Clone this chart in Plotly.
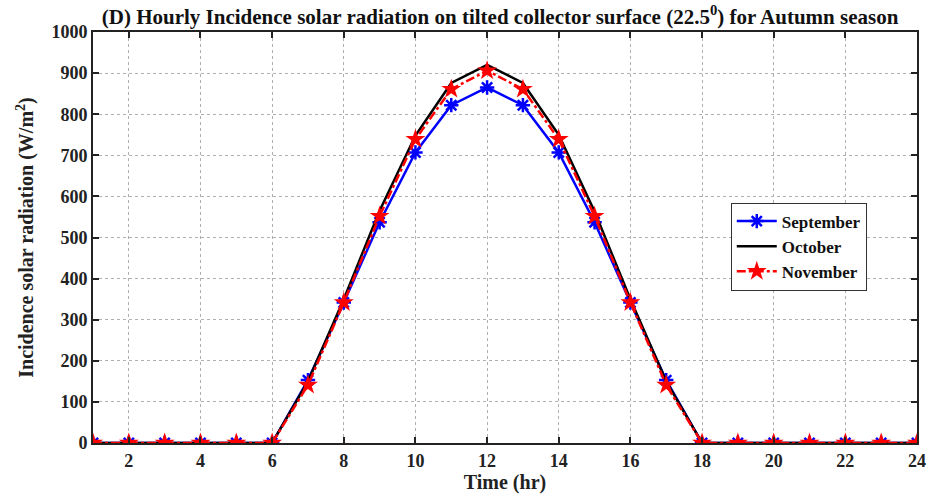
import plotly.graph_objects as go

hours = list(range(1, 25))
september = [0, 0, 0, 0, 0, 0, 153, 342, 537, 707, 822, 865, 822, 707, 537, 342, 153, 0, 0, 0, 0, 0, 0, 0]
october = [0, 0, 0, 0, 0, 0, 150, 350, 565, 748, 876, 920, 876, 750, 563, 350, 150, 0, 0, 0, 0, 0, 0, 0]
november = [0, 0, 0, 0, 0, 0, 141, 342, 552, 739, 861, 906, 861, 739, 552, 342, 141, 0, 0, 0, 0, 0, 0, 0]
x_ticks = [2, 4, 6, 8, 10, 12, 14, 16, 18, 20, 22, 24]
y_ticks = [0, 100, 200, 300, 400, 500, 600, 700, 800, 900, 1000]

font_family = "Liberation Serif"

fig = go.Figure()
fig.add_trace(go.Scatter(
    x=hours, y=september, name="<b>September</b>", mode="lines+markers",
    line=dict(color="#0000ff", width=2.5),
    marker=dict(symbol="asterisk-open", size=12, color="#0000ff", line=dict(color="#0000ff", width=2.5)),
))
fig.add_trace(go.Scatter(
    x=hours, y=october, name="<b>October</b>", mode="lines",
    line=dict(color="#000000", width=2.5),
))
fig.add_trace(go.Scatter(
    x=hours, y=november, name="<b>November</b>", mode="lines+markers",
    line=dict(color="#ff0000", width=2.5, dash="dashdot"),
    marker=dict(symbol="star", size=15, color="#ff0000"),
))

fig.update_layout(
    width=940, height=501,
    paper_bgcolor="white", plot_bgcolor="white",
    margin=dict(l=93, r=23, t=32, b=58),
    font=dict(family=font_family, size=17, color="#222222"),
    title=dict(
        text="<b>(D) Hourly Incidence solar radiation on tilted collector surface (22.5<sup>0</sup>) for Autumn season</b>",
        x=0.532, xanchor="center", y=0.982, yanchor="top",
        font=dict(family=font_family, size=21, color="#111111"),
    ),
    showlegend=True,
    legend=dict(
        x=0.774, y=0.585, xanchor="left", yanchor="top",
        bgcolor="white", bordercolor="#333333", borderwidth=1,
        font=dict(family=font_family, size=17, color="#111111"),
        tracegroupgap=0, itemwidth=40,
    ),
)
fig.update_xaxes(
    range=[1, 24], tickvals=x_ticks, ticktext=[f"<b>{v}</b>" for v in x_ticks],
    showline=True, linecolor="#222222", linewidth=2, mirror="ticks",
    ticks="inside", ticklen=6, tickwidth=2, tickcolor="#222222",
    showgrid=True, gridcolor="#b0b0b0", griddash="dot", gridwidth=1,
    zeroline=False,
    tickfont=dict(family=font_family, size=18, color="#222222"),
    title=dict(text="<b>Time (hr)</b>", font=dict(family=font_family, size=20, color="#222222"), standoff=4),
)
fig.update_yaxes(
    range=[0, 1000], tickvals=y_ticks, ticktext=[f"<b>{v}</b>" for v in y_ticks],
    showline=True, linecolor="#222222", linewidth=2, mirror="ticks",
    ticks="inside", ticklen=6, tickwidth=2, tickcolor="#222222",
    showgrid=True, gridcolor="#b0b0b0", griddash="dot", gridwidth=1,
    zeroline=False,
    tickfont=dict(family=font_family, size=18, color="#222222"),
    title=dict(text="<b>Incidence solar radiation (W/m<sup>2</sup>)</b>", font=dict(family=font_family, size=20, color="#222222"), standoff=12),
)

fig.write_html("out.html")
